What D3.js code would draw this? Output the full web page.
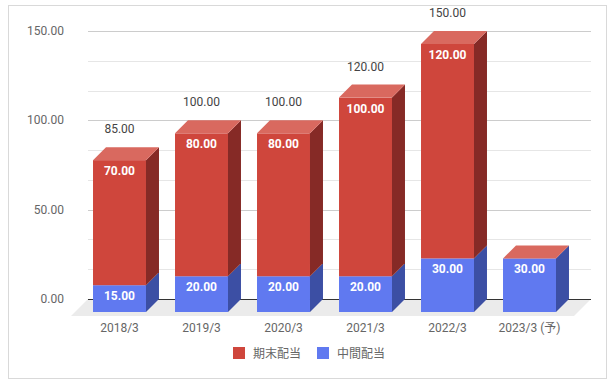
<!DOCTYPE html>
<html>
<head>
<meta charset="utf-8">
<script src="https://cdn.jsdelivr.net/npm/d3@7.9.0/dist/d3.min.js"></script>
<style>
  body { margin: 0; background: #fff; }
  text { font-family: Roboto, "Noto Sans CJK JP", sans-serif; }
</style>
</head>
<body>
<svg width="616" height="386"></svg>
<script>
const years = ['2018/3', '2019/3', '2020/3', '2021/3', '2022/3', '2023/3 (予)'];
const interim = [15, 20, 20, 20, 30, 30];   // 中間配当
const yearEnd = [70, 80, 80, 100, 120, 0];  // 期末配当
const totals = [85, 100, 100, 120, 150, null];
const yTicks = [0, 50, 100, 150];
const seriesNames = ['期末配当', '中間配当'];

const svg = d3.select('svg');
const depth = 13;      // bar depth offset
const floorDepth = 17;

// frame
svg.append('rect')
  .attr('x', 8.5).attr('y', 5.5).attr('width', 598).attr('height', 373)
  .attr('fill', '#fff').attr('stroke', '#d9d9d9');

let y = d3.scaleLinear().domain([0, 150]).range([299, 31]);
let x = d3.scaleBand().domain(years).range([91.5, 583.5])
  .paddingInner(0.354).paddingOuter(0.177);

const gx0 = 88, gx1 = 591;

// floor
svg.append('path')
  .attr('d', `M${gx0},${y(0)} L${gx1},${y(0)} L${gx1 - floorDepth},${y(0) + floorDepth} L${gx0 - floorDepth},${y(0) + floorDepth} Z`)
  .attr('fill', '#ebebeb');

// gridlines (minor every 50/3)
let minor = d3.range(0, 151, 50 / 3);
svg.selectAll('line.minor').data(minor).join('line')
  .attr('x1', gx0).attr('x2', gx1)
  .attr('y1', (d) => Math.round(y(d)) + 0.5).attr('y2', (d) => Math.round(y(d)) + 0.5)
  .attr('stroke', (d) => (Math.abs(d % 50) < 0.01 || Math.abs(d % 50 - 50) < 0.01) ? '#cccccc' : '#e6e6e6');

svg.append('line')
  .attr('x1', gx0).attr('x2', gx1)
  .attr('y1', Math.round(y(0)) + 0.5).attr('y2', Math.round(y(0)) + 0.5)
  .attr('stroke', '#333');

// y labels
svg.selectAll('text.ytick').data(yTicks).join('text')
  .attr('x', 64).attr('y', (d) => y(d) + 4)
  .attr('text-anchor', 'end').attr('font-size', 12).attr('fill', '#666')
  .text((d) => d.toFixed(2));

const colors = {
  red: { front: '#cf463c', top: '#d9695f', side: '#862a26' },
  blue: { front: '#6079f0', top: '#8094f3', side: '#3c4fa4' },
};

years.forEach((yr, i) => {
  let bx = x(yr) - depth;  // front face left
  let w = x.bandwidth();
  let segs = [
    { v0: 0, v1: interim[i], c: colors.blue, val: interim[i] },
    { v0: interim[i], v1: interim[i] + yearEnd[i], c: colors.red, val: yearEnd[i] },
  ];
  let g = svg.append('g');
  segs.forEach((s) => {
    if (s.v1 - s.v0 <= 0) return;
    let yt = y(s.v1) + depth, yb = y(s.v0) + depth;
    g.append('rect').attr('x', bx).attr('y', yt).attr('width', w).attr('height', yb - yt)
      .attr('fill', s.c.front);
    g.append('path')
      .attr('d', `M${bx + w},${yb} L${bx + w},${yt} L${bx + w + depth},${yt - depth} L${bx + w + depth},${yb - depth} Z`)
      .attr('fill', s.c.side);
  });
  // top face uses top series colour
  let top = y(interim[i] + yearEnd[i]) + depth;
  g.append('path')
    .attr('d', `M${bx},${top} L${bx + w},${top} L${bx + w + depth},${top - depth} L${bx + depth},${top - depth} Z`)
    .attr('fill', colors.red.top);

  segs.forEach((s) => {
    if (s.val <= 0) return;
    g.append('text')
      .attr('x', bx + w / 2).attr('y', y(s.v1) + depth + 15)
      .attr('text-anchor', 'middle').attr('font-size', 12).attr('font-weight', 'bold')
      .attr('fill', '#fff').text(s.val.toFixed(2));
  });

  if (totals[i] != null) {
    svg.append('text')
      .attr('x', bx + w / 2).attr('y', y(totals[i]) - 14)
      .attr('text-anchor', 'middle').attr('font-size', 12).attr('fill', '#444')
      .text(totals[i].toFixed(2));
  }

  svg.append('text')
    .attr('x', bx + w / 2).attr('y', 332)
    .attr('text-anchor', 'middle').attr('font-size', 12).attr('fill', '#666')
    .text(yr);
});

// legend
const legendX = [233, 317];
const legendColors = [colors.red.front, colors.blue.front];
seriesNames.forEach((name, i) => {
  svg.append('rect').attr('x', legendX[i]).attr('y', 347).attr('width', 12).attr('height', 12)
    .attr('fill', legendColors[i]);
  svg.append('text').attr('x', legendX[i] + 20).attr('y', 357.5)
    .attr('font-size', 12).attr('fill', '#666').text(name);
});
</script>
</body>
</html>
